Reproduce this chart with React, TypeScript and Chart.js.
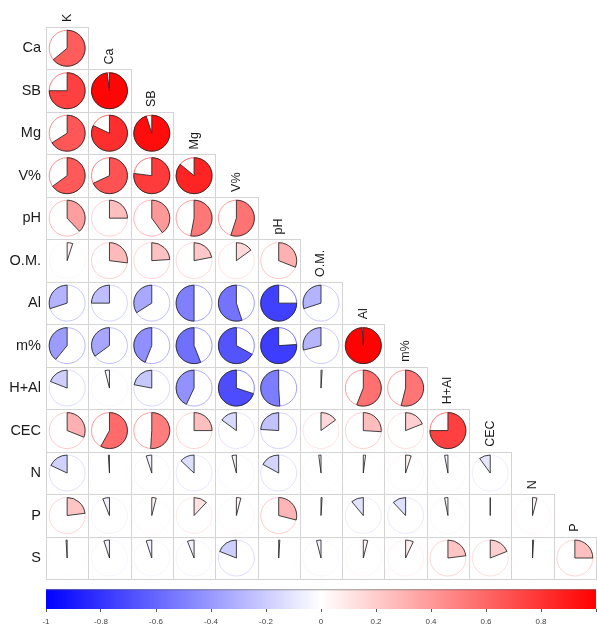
import React, { useEffect, useRef } from 'react';
import { Chart, registerables } from 'chart.js';

Chart.register(...registerables);

// Variable names (diagonal order)
const variables = ['K', 'Ca', 'SB', 'Mg', 'V%', 'pH', 'O.M.', 'Al', 'm%', 'H+Al', 'CEC', 'N', 'P', 'S'];

// Lower-triangle correlations: each row vs. the preceding variables (K, Ca, SB, ...)
const rowCa = [0.64];
const rowSB = [0.75, 0.98];
const rowMg = [0.66, 0.82, 0.95];
const rowV = [0.65, 0.68, 0.77, 0.86];
const rowPH = [0.38, 0.25, 0.40, 0.53, 0.55];
const rowOM = [0.05, 0.27, 0.24, 0.22, 0.15, 0.31];
const rowAl = [-0.30, -0.25, -0.34, -0.50, -0.55, -0.75, -0.30];
const rowM = [-0.39, -0.35, -0.44, -0.56, -0.67, -0.76, -0.29, 0.99];
const rowHAl = [-0.19, -0.04, -0.22, -0.43, -0.70, -0.51, 0.01, 0.56, 0.54];
const rowCEC = [0.31, 0.58, 0.51, 0.25, -0.15, -0.24, 0.15, 0.26, 0.19, 0.75];
const rowN = [-0.18, -0.01, -0.05, -0.13, -0.04, -0.17, -0.02, 0.02, 0.05, -0.03, -0.10];
const rowP = [0.23, -0.06, 0.04, 0.12, 0.04, 0.29, 0.01, -0.11, -0.12, -0.03, 0.0, 0.04];
const rowS = [-0.01, -0.05, -0.05, -0.06, -0.19, 0.01, -0.04, 0.04, 0.07, 0.23, 0.19, 0.01, 0.25];

const lowerRows = [rowCa, rowSB, rowMg, rowV, rowPH, rowOM, rowAl, rowM, rowHAl, rowCEC, rowN, rowP, rowS];

// Colour bar tick values
const colorbarTicks = [-1, -0.8, -0.6, -0.4, -0.2, 0, 0.2, 0.4, 0.6, 0.8, 1];

function colorFor(r: number): string {
  const a = Math.min(1, Math.abs(r));
  const c = Math.round(255 * (1 - a));
  return r >= 0 ? `rgb(255,${c},${c})` : `rgb(${c},${c},255)`;
}

const N = lowerRows.length; // 13

const corrPlugin = {
  id: 'corrPies',
  beforeDatasetsDraw(chart: any) {
    const { ctx, chartArea } = chart;
    const xs = chart.scales.x;
    const ys = chart.scales.y;
    const cb = chart.scales.cb;
    ctx.save();
    // grid cells
    ctx.strokeStyle = '#d4d4d4';
    ctx.lineWidth = 1;
    for (let i = 0; i < N; i++) {
      for (let j = 0; j <= i; j++) {
        const x0 = Math.round(xs.getPixelForValue(j)) + 0.5;
        const x1 = Math.round(xs.getPixelForValue(j + 1)) + 0.5;
        const y0 = Math.round(ys.getPixelForValue(i)) + 0.5;
        const y1 = Math.round(ys.getPixelForValue(i + 1)) + 0.5;
        ctx.strokeRect(x0, y0, x1 - x0, y1 - y0);
      }
    }
    // row labels
    ctx.fillStyle = '#1a1a1a';
    ctx.font = '14.5px "Liberation Sans", Arial, sans-serif';
    ctx.textAlign = 'right';
    ctx.textBaseline = 'middle';
    for (let i = 0; i < N; i++) {
      ctx.fillText(variables[i + 1], chartArea.left - 5, ys.getPixelForValue(i + 0.5));
    }
    // column labels (rotated)
    ctx.font = '12.5px "Liberation Sans", Arial, sans-serif';
    ctx.textAlign = 'left';
    for (let j = 0; j < N; j++) {
      const cx = xs.getPixelForValue(j + 0.5);
      const by = ys.getPixelForValue(j) - 5;
      ctx.save();
      ctx.translate(cx, by);
      ctx.rotate(-Math.PI / 2);
      ctx.fillText(variables[j], 0, 0);
      ctx.restore();
    }
    // colour bar
    const gx0 = cb.getPixelForValue(-1);
    const gx1 = cb.getPixelForValue(1);
    const gy0 = ys.getPixelForValue(N) + 10;
    const gy1 = chartArea.bottom;
    const grad = ctx.createLinearGradient(gx0, 0, gx1, 0);
    grad.addColorStop(0, 'rgb(0,0,255)');
    grad.addColorStop(0.5, 'rgb(255,255,255)');
    grad.addColorStop(1, 'rgb(255,0,0)');
    ctx.fillStyle = grad;
    ctx.fillRect(gx0, gy0, gx1 - gx0, gy1 - gy0);
    ctx.strokeStyle = 'rgba(90,90,90,0.6)';
    ctx.lineWidth = 1;
    ctx.beginPath();
    ctx.moveTo(gx0, gy0 + 0.5);
    ctx.lineTo(gx1, gy0 + 0.5);
    ctx.stroke();
    ctx.restore();
  },
  afterDatasetsDraw(chart: any) {
    const { ctx } = chart;
    const xs = chart.scales.x;
    const meta = chart.getDatasetMeta(0);
    const ds = chart.data.datasets[0].data as any[];
    const cell = xs.getPixelForValue(1) - xs.getPixelForValue(0);
    const rad = cell * 0.425;
    ctx.save();
    meta.data.forEach((pt: any, k: number) => {
      const r = ds[k].v as number;
      const { x, y } = pt.getProps(['x', 'y'], true);
      const col = colorFor(r);
      // outline circle
      ctx.beginPath();
      ctx.arc(x, y, rad, 0, Math.PI * 2);
      ctx.strokeStyle = col;
      ctx.lineWidth = 1;
      ctx.globalAlpha = 0.7;
      ctx.stroke();
      ctx.globalAlpha = 1;
      // pie sector
      const start = -Math.PI / 2;
      const end = start + 2 * Math.PI * r;
      ctx.beginPath();
      ctx.moveTo(x, y);
      if (Math.abs(r) >= 0.999) {
        ctx.arc(x, y, rad, start, start + 2 * Math.PI * Math.sign(r) * 0.999, r < 0);
      } else {
        ctx.arc(x, y, rad, start, end, r < 0);
      }
      ctx.closePath();
      ctx.fillStyle = col;
      ctx.fill();
      ctx.strokeStyle = 'rgba(35,35,35,0.85)';
      ctx.lineWidth = 1;
      ctx.stroke();
    });
    ctx.restore();
  },
};

export default function App() {
  const canvasRef = useRef<HTMLCanvasElement | null>(null);

  useEffect(() => {
    document.body.style.margin = '0';
    document.body.style.overflow = 'hidden';
    const canvas = canvasRef.current;
    if (!canvas) return;

    const points: any[] = [];
    lowerRows.forEach((row, i) => {
      row.forEach((v, j) => {
        points.push({ x: j + 0.5, y: i + 0.5, v });
      });
    });

    const chart = new Chart(canvas, {
      type: 'scatter',
      data: {
        datasets: [
          {
            data: points,
            pointRadius: 0,
            pointHoverRadius: 0,
            xAxisID: 'x',
            yAxisID: 'y',
          },
        ],
      },
      options: {
        animation: false,
        responsive: false,
        devicePixelRatio: 1,
        events: [],
        layout: { padding: { left: 46, right: 3, top: 27, bottom: -5 } },
        plugins: { legend: { display: false }, tooltip: { enabled: false } },
        scales: {
          x: { type: 'linear', min: 0, max: 13, display: false },
          y: { type: 'linear', min: 0, max: 13.7, reverse: true, display: false },
          cb: {
            type: 'linear',
            axis: 'x',
            position: 'bottom',
            min: -1,
            max: 1,
            afterBuildTicks: (scale: any) => {
              scale.ticks = colorbarTicks.map((v) => ({ value: v }));
            },
            ticks: {
              autoSkip: false,
              maxRotation: 0,
              padding: 6,
              color: '#444',
              font: { size: 8, lineHeight: 1, family: '"Liberation Sans", Arial, sans-serif' },
              callback: (v: any) => {
                const n = Math.round(Number(v) * 10) / 10;
                return n >= 1 ? '' : String(n);
              },
            },
            grid: {
              display: true,
              drawOnChartArea: false,
              drawTicks: true,
              tickLength: 3,
              color: '#555',
            },
            border: { display: false },
          },
        },
      },
      plugins: [corrPlugin],
    });

    return () => {
      chart.destroy();
    };
  }, []);

  return (
    <div style={{ width: 597, height: 627, overflow: 'hidden', background: '#fff' }}>
      <canvas ref={canvasRef} width={602} height={627} style={{ display: 'block' }} />
    </div>
  );
}
